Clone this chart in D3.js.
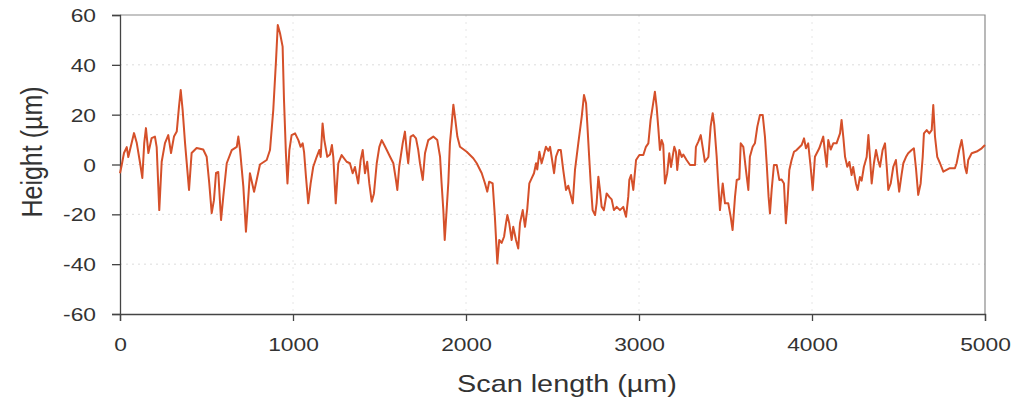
<!DOCTYPE html>
<html>
<head>
<meta charset="utf-8">
<script src="https://cdn.jsdelivr.net/npm/d3@7"></script>
<style>
  body { margin: 0; background: #fff; }
  svg text { font-family: "Liberation Sans", Arial, sans-serif; fill: #333; }
</style>
</head>
<body>
<svg width="1018" height="406"></svg>
<script>
// profile: scan position (µm) and height (µm)
var scanX = [0,10,23,39,48,81,97,116,129,140,150,164,183,202,212,227,241,260,279,295,312,328,341,351,362,376,399,414,443,481,501,516,530,543,555,568,584,597,617,646,675,684,694,713,728,742,751,775,790,809,848,867,886,902,912,925,940,948,959,968,979,992,1012,1031,1044,1056,1064,1075,1088,1102,1117,1137,1152,1160,1171,1181,1198,1214,1225,1233,1247,1262,1281,1310,1329,1345,1358,1377,1391,1403,1416,1429,1441,1455,1468,1484,1499,1513,1526,1542,1561,1580,1595,1603,1614,1634,1647,1657,1666,1680,1695,1711,1724,1734,1750,1763,1782,1811,1834,1850,1859,1869,1877,1888,1898,1907,1917,1927,1936,1950,1965,2004,2042,2062,2091,2110,2123,2134,2154,2167,2181,2192,2206,2220,2231,2239,2250,2264,2273,2289,2302,2312,2328,2341,2354,2366,2380,2393,2405,2412,2424,2437,2447,2462,2476,2486,2495,2509,2520,2534,2548,2562,2578,2591,2605,2617,2630,2649,2669,2682,2694,2701,2713,2721,2732,2746,2755,2765,2774,2784,2797,2813,2828,2842,2855,2871,2890,2909,2925,2938,2944,2954,2967,2983,3002,3025,3040,3054,3067,3079,3092,3102,3111,3121,3131,3140,3150,3163,3175,3185,3194,3204,3214,3221,3233,3247,3256,3275,3295,3324,3329,3343,3357,3368,3381,3401,3414,3426,3435,3449,3458,3468,3484,3497,3516,3530,3541,3555,3565,3580,3588,3603,3618,3632,3641,3657,3670,3684,3699,3715,3728,3738,3749,3757,3767,3780,3796,3811,3824,3838,3849,3859,3869,3882,3896,3911,3940,3954,3965,3978,3992,4004,4017,4042,4065,4075,4085,4094,4108,4123,4142,4162,4171,4181,4191,4204,4216,4229,4238,4254,4264,4277,4287,4300,4316,4326,4335,4345,4358,4370,4383,4393,4408,4422,4432,4441,4455,4470,4485,4493,4504,4518,4528,4543,4556,4576,4589,4601,4614,4628,4640,4647,4663,4678,4692,4701,4711,4724,4740,4759,4778,4797,4826,4836,4851,4865,4874,4884,4894,4903,4923,4952,4981,5000];
var heightY = [-3.5,-0.2,4.6,7,3,12.6,8.6,0.6,-5.4,8.6,14.6,4.6,10.6,11.2,7,-18.3,1.1,8.6,11.8,4.6,11.2,13.2,23.2,29.9,21.9,8.6,-10.2,4.6,6.6,6,3.1,-7.6,-19.5,-14.3,-3.4,-3,-22.3,-12.9,0.5,5.8,7.1,11.2,5.8,-8.9,-27,-12.9,-3.5,-10.9,-6.2,0,1.8,5.8,21.9,42,56,52.7,47.3,25.9,4.5,-7.6,5.8,11.8,12.5,9.8,7.1,8.5,5,-4.9,-15.6,-7.6,-0.9,3.1,5.8,3,16.5,9.8,3.1,4,7.8,3,-15.6,0.5,3.8,1.1,0.5,-3.5,-1,-7.6,1.8,5.8,-3.5,1.1,-7.6,-14.9,-11.6,0.5,7.1,9.8,8,5.8,3.1,0.5,-6.2,-10.2,-0.9,8.5,13.2,5.8,0.5,11.2,11.8,10.5,5.8,0.5,-6.2,4.5,9.8,11.2,9.8,3.1,-7.6,-18.3,-30.3,-18.3,-7,8.5,15.9,24,19.2,11.2,7.1,5.1,2.5,0.5,-3.5,-7.6,-10.9,-6.9,-7.6,-21,-39.7,-30.3,-31.5,-29,-23.6,-20.3,-23.6,-30.3,-25,-30.3,-33.7,-23.6,-18.3,-25,-18,-7.6,-5.5,-3.5,0.5,-2,5.1,0.5,3,7.1,5.5,7.1,3,-3.5,3.1,5.8,5.8,-2.2,-10.2,-8.5,-12.2,-15.6,-2.2,8.5,19.2,27.9,24.6,16.5,1.8,-7.6,-18.3,-20.3,-15.5,-4.9,-10,-16.9,-18.3,-11.6,-13,-14,-18.3,-17,-18.3,-17,-21,-12.9,-6.2,-4.2,-10.2,1.8,3.8,3.8,7.1,8.5,17.9,23.2,29.2,23,15.2,5.8,9.8,8,-7.6,-3.5,4.5,-1,3,7.1,5,-2.2,5.8,3,4,1.8,-0.2,-0.2,7.1,9.2,11.8,7,1.1,3,15.2,20.6,16,3.1,-7.6,-18.3,-7.6,-15.6,-15.6,-21,-26.3,-12.9,-6.2,-5.8,8.5,7.1,-2.2,-10.2,3.1,7.1,8.5,15.2,19.9,19.9,11.2,0.5,-12.9,-19.6,-10,-0.2,-0.2,-6.2,-6,-7.6,-23.6,-14,-2.2,1.8,5.1,5.8,7.8,10.5,6.5,8.5,-0.9,-10.2,3.1,6.5,11.2,5,-0.9,9.8,6,8.5,8.5,12.5,17.9,11,3.1,-0.9,1,-4.2,-1,-7.6,-10.2,-5,-6.5,-0.9,3,11.8,3,-7.6,0.5,5.8,1.5,-0.9,5.8,8.5,-0.9,-10.2,-7.6,-0.9,1.8,-4,-10.9,-4,0.5,3,4.5,5.8,6.5,-1.5,-12.2,-7.6,3.1,12.5,13.8,12.5,13.8,23.9,11.2,3.1,0.5,-2.9,-2.2,-1.5,-1.5,0.5,5.8,9.8,5.8,-0.9,-3.5,1.8,4.5,5.2,6.5,7.8];

var xTicks = [0, 1000, 2000, 3000, 4000, 5000];
var yTicks = [-60, -40, -20, 0, 20, 40, 60];
var xTitle = "Scan length (µm)";
var yTitle = "Height (µm)";

var margin = {left: 120, right: 33, top: 15, bottom: 92};
var width = 1018, height = 406;
// the source picture is a little wider than tall, text is stretched too
var stretch = 1.2;

var svg = d3.select("svg");

var x = d3.scaleLinear().domain([0, 5000]).range([margin.left, width - margin.right]);
var y = d3.scaleLinear().domain([-60, 60]).range([height - margin.bottom, margin.top]);

// faint dotted grid
svg.append("g")
    .selectAll("line")
    .data(yTicks.slice(1, -1))
    .enter()
    .append("line")
    .attr("x1", x(0)).attr("x2", x(5000))
    .attr("y1", d => y(d)).attr("y2", d => y(d))
    .attr("stroke", "#dcdcdc")
    .attr("stroke-width", 1)
    .attr("stroke-dasharray", "2,4");

svg.append("g")
    .selectAll("line")
    .data(xTicks.slice(1, -1))
    .enter()
    .append("line")
    .attr("x1", d => x(d)).attr("x2", d => x(d))
    .attr("y1", y(60)).attr("y2", y(-60))
    .attr("stroke", "#e6e6e6")
    .attr("stroke-width", 1)
    .attr("stroke-dasharray", "2,5");

// top and right frame
svg.append("path")
    .attr("d", "M" + x(0) + "," + y(60) + "H" + x(5000) + "V" + y(-60))
    .attr("fill", "none")
    .attr("stroke", "#8a8a8a")
    .attr("stroke-width", 1.2);

// axes
var xAxis = svg.append("g")
    .attr("transform", "translate(0," + y(-60) + ")")
    .call(d3.axisBottom(x).tickValues(xTicks).tickSize(7).tickPadding(17).tickFormat(d => String(d)));

var yAxis = svg.append("g")
    .attr("transform", "translate(" + x(0) + ",0)")
    .call(d3.axisLeft(y).tickValues(yTicks).tickSize(8).tickFormat(d => String(d)));

[xAxis, yAxis].forEach(function(g) {
    g.select(".domain").attr("stroke", "#444").attr("stroke-width", 1.3);
    g.selectAll(".tick line").attr("stroke", "#444").attr("stroke-width", 1.3);
    g.selectAll(".tick text")
        .style("font-size", "19px")
        .style("font-family", "'Liberation Sans', Arial, sans-serif")
        .attr("fill", "#333");
});
xAxis.selectAll(".tick text")
    .attr("transform", "scale(" + stretch + ",1)");
yAxis.selectAll(".tick text")
    .attr("x", 0)
    .attr("dy", "0.35em")
    .attr("transform", "translate(-24,0) scale(" + stretch + ",1)");

// profile line
var line = d3.line()
    .x((d, i) => x(scanX[i]))
    .y(d => y(d));

svg.append("path")
    .datum(heightY)
    .attr("d", line)
    .attr("fill", "none")
    .attr("stroke", "#d5502a")
    .attr("stroke-width", 2)
    .attr("stroke-linejoin", "round");

// titles
svg.append("text")
    .attr("transform", "translate(567,392) scale(" + stretch + ",1)")
    .attr("text-anchor", "middle")
    .style("font-size", "24px")
    .text(xTitle);

svg.append("text")
    .attr("transform", "translate(42,152) scale(" + stretch + ",1) rotate(-90)")
    .attr("text-anchor", "middle")
    .style("font-size", "25px")
    .text(yTitle);
</script>
</body>
</html>
